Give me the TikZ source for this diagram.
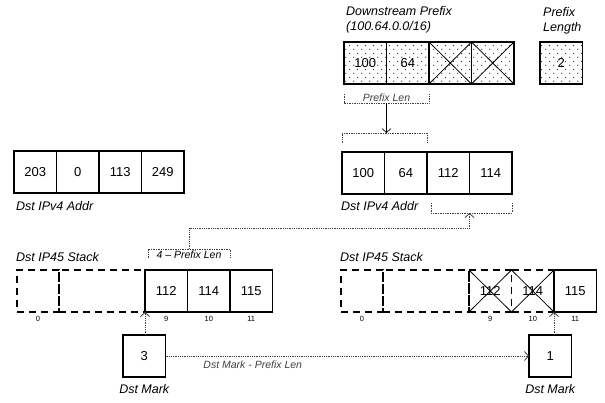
\documentclass[tikz,border=0pt]{standalone}
\usepackage{fontspec}
\setmainfont{Liberation Sans}
\usetikzlibrary{arrows.meta,positioning,patterns.meta}

\tikzdeclarepattern{
  name=stipple, type=uncolored,
  bottom left={(0pt,0pt)}, top right={(8pt,8pt)}, tile size={(8pt,8pt)},
  code={\fill (2pt,2pt) circle (0.7pt); \fill (6pt,6pt) circle (0.7pt);}
}

\begin{document}
\begin{tikzpicture}[
	x=1pt, y=1pt,
	>={Straight Barb[length=4pt,width=9pt]},
	cell/.style={rectangle, draw, line width=1.3pt, minimum width=42.5pt, minimum height=42pt, inner sep=0pt, outer sep=0pt, font=\fontsize{13}{15}\selectfont},
	pcell/.style={cell, pattern=stipple, pattern color=black!80},
	ghost/.style={cell, dash pattern=on 7pt off 5pt, line width=1.4pt},
	caption/.style={font=\fontsize{12.5}{15}\selectfont\itshape, inner sep=0pt, align=left},
	note/.style={font=\fontsize{10.5}{12}\selectfont\itshape, inner sep=1pt},
	idx/.style={font=\fontsize{7.5}{9}\selectfont, inner sep=0pt},
	brk/.style={densely dotted, line width=0.7pt, black!75},
	conn/.style={->, densely dotted, line width=0.8pt, black!75}
]
\useasboundingbox (0,0) rectangle (605,-403);

% --- Downstream prefix and its length ---
\node[caption, anchor=north west] (dptitle) at (346,-6) {Downstream Prefix\\(100.64.0.0/16)};
\node[pcell, anchor=north west] (dp1) at (344,-42) {100};
\node[pcell, right=0pt of dp1] (dp2) {64};
\node[pcell, right=0pt of dp2] (dp3) {};
\node[pcell, right=0pt of dp3] (dp4) {};
\draw[line width=0.8pt] (dp3.north west) -- (dp3.south east) (dp3.south west) -- (dp3.north east)
  (dp4.north west) -- (dp4.south east) (dp4.south west) -- (dp4.north east);

\node[caption, anchor=north west] (pltitle) at (543,-7) {Prefix\\Length};
\node[pcell, anchor=north west] (plen) at (540,-42) {2};

\draw[brk] ([yshift=-10pt]dp1.south west) -- ++(0,-9)
  -| node[note, pos=0.25, above=0pt] {Prefix Len} coordinate[pos=0.25] (plarr) ([yshift=-10pt]dp2.south east);

% --- Dst IPv4 addresses ---
\node[cell, anchor=north west] (l1) at (14,-151) {203};
\node[cell, right=0pt of l1] (l2) {0};
\node[cell, right=0pt of l2] (l3) {113};
\node[cell, right=0pt of l3] (l4) {249};
\node[caption, anchor=west] (lcap) at (16,-206) {Dst IPv4 Addr};

\node[cell, anchor=north west] (r1) at (342,-152) {100};
\node[cell, right=0pt of r1] (r2) {64};
\node[cell, right=0pt of r2] (r3) {112};
\node[cell, right=0pt of r3] (r4) {114};
\node[caption, anchor=west] (rcap) at (341,-206) {Dst IPv4 Addr};

\draw[brk] ([yshift=9pt]r1.north west) -- ++(0,10)
  -| coordinate[pos=0.25] (rbtop) ([yshift=9pt]r2.north east);
\draw[brk] ([shift={(4pt,-9pt)}]r3.south west) -- ++(0,-10) coordinate (rbbot)
  -| ([yshift=-9pt]r4.south east);
\draw[->, line width=0.7pt] (plarr) -- (plarr |- rbtop);

% --- Dst IP45 stacks ---
\node[caption, anchor=west] (lstack) at (16,-257) {Dst IP45 Stack};
\node[ghost, anchor=north west, minimum width=42pt] (lsa) at (17,-270) {};
\node[ghost, right=0pt of lsa, minimum width=86pt] (lsb) {};
\node[cell, right=0pt of lsb] (ls9) {112};
\node[cell, right=0pt of ls9] (ls10) {114};
\node[cell, right=0pt of ls10] (ls11) {115};
\node[idx, below=4pt of lsa] {0};
\node[idx, below=4pt of ls9] {9};
\node[idx, below=4pt of ls10] {10};
\node[idx, below=4pt of ls11] {11};

\draw[brk] ([shift={(3pt,12pt)}]ls9.north west) -- ++(0,9)
  -| coordinate[pos=0.25] (lbtop) ([yshift=12pt]ls10.north east);
\node[note, below=1pt of lbtop] (lbnote) {4 -- Prefix Len};

\node[caption, anchor=west] (rstack) at (340,-257) {Dst IP45 Stack};
\node[ghost, anchor=north west, minimum width=42pt] (rsa) at (341,-270) {};
\node[ghost, right=0pt of rsa, minimum width=86pt] (rsb) {};
\node[ghost, right=0pt of rsb] (rs9) {112};
\node[ghost, right=0pt of rs9] (rs10) {114};
\node[cell, right=0pt of rs10] (rs11) {115};
\draw[line width=0.8pt] (rs9.north west) -- (rs9.south east) (rs9.south west) -- (rs9.north east)
  (rs10.north west) -- (rs10.south east) (rs10.south west) -- (rs10.north east);
\node[idx, below=4pt of rsa] {0};
\node[idx, below=4pt of rs9] {9};
\node[idx, below=4pt of rs10] {10};
\node[idx, below=4pt of rs11] {11};

\draw[conn] (lbtop) -- ++(0,21) -| (r4.south west |- rbbot);

% --- Dst marks ---
\node[cell, anchor=north west] (mk1) at (123,-335) {3};
\node[caption, below=7pt of mk1] (mk1cap) {Dst Mark};
\node[cell, anchor=north west] (mk2) at (529,-335) {1};
\node[caption, below=7pt of mk2] (mk2cap) {Dst Mark};

\draw[conn] (ls9.south west |- mk1.north) -- (ls9.south west);
\draw[conn] (rs11.south west |- mk2.north) -- (rs11.south west);
\draw[conn] (mk1) -- node[note, pos=0.24, below=3pt] {Dst Mark - Prefix Len} (mk2);

\end{tikzpicture}
\end{document}
